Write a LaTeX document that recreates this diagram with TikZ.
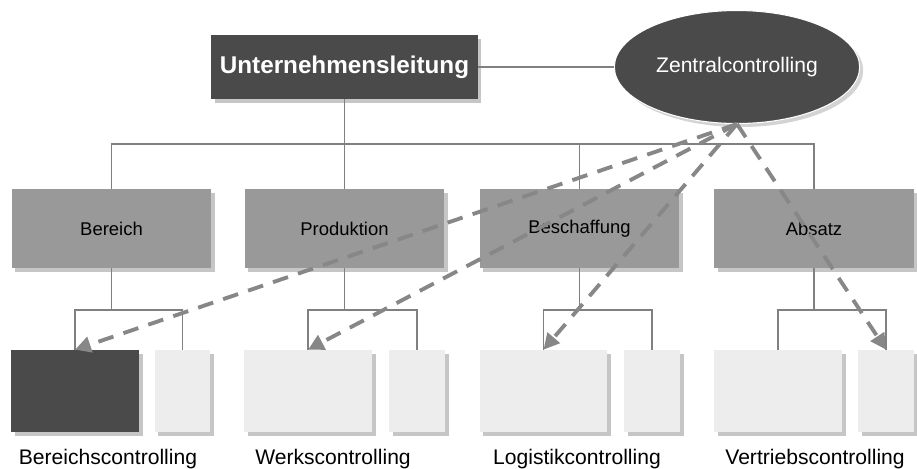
\documentclass[tikz,border=0pt]{standalone}
\usepackage{fontspec}
\setmainfont{Liberation Sans}
\usepackage{tikz}
\usetikzlibrary{arrows.meta, shapes.geometric, shadows}

\begin{document}
\begin{tikzpicture} [x=0.02cm, y=-0.02cm,
	line/.style={draw=black!50, line width=0.75pt},
	box/.style={rectangle, drop shadow={shadow xshift=2pt, shadow yshift=-2pt, opacity=0.45}},
	head/.style={box, fill=black!71, text=white, minimum width=5.34cm, minimum height=1.28cm, font=\fontsize{13.8}{16}\selectfont\bfseries},
	dept/.style={box, fill=black!40, minimum width=4cm, minimum height=1.58cm, font=\fontsize{10.5}{12}\selectfont},
	unit/.style={box, fill=black!7, minimum width=2.56cm, minimum height=1.64cm},
	sub/.style={box, fill=black!7, minimum width=1.12cm, minimum height=1.64cm},
	caption/.style={anchor=base, font=\fontsize{12}{14}\selectfont},
	ctrl/.style={draw=black!47, line width=2.2pt, dash pattern=on 9pt off 6pt, -{Triangle[length=9pt, width=9pt]}}]
\useasboundingbox (0, 0) rectangle (917, 468);

\path (344.5, 67) node[head] (ul) {Unternehmensleitung}
	  (737, 67) node[ellipse, fill=black!71, draw=white, line width=0.6pt, text=white, minimum width=4.84cm, minimum height=2.26cm, font=\fontsize{12}{14}\selectfont, drop shadow={shadow xshift=2pt, shadow yshift=-2pt, opacity=0.35}] (zc) {Zentralcontrolling}

	  (111.5, 228.5) node[dept] (m0) {Bereich}
	  (344.5, 228.5) node[dept] (m1) {Produktion}
	  (579.5, 228.5) node[dept] (m2) {Beschaffung}
	  (814, 228.5) node[dept] (m3) {Absatz}

	  (75, 391) node[unit, fill=black!71] (c0) {}
	  (182.5, 391) node[sub] (s0) {}
	  (308, 391) node[unit] (c1) {}
	  (417, 391) node[sub] (s1) {}
	  (543.5, 391) node[unit] (c2) {}
	  (652, 391) node[sub] (s2) {}
	  (778, 391) node[unit] (c3) {}
	  (886, 391) node[sub] (s3) {}

	  (108, 464) node[caption] (l0) {Bereichscontrolling}
	  (333, 464) node[caption] (l1) {Werkscontrolling}
	  (577, 464) node[caption] (l2) {Logistikcontrolling}
	  (815, 464) node[caption] (l3) {Vertriebscontrolling}

	  (0, 144) coordinate (bus)
	  (0, 310) coordinate (fork);

\draw[line] (ul) -- (zc);
\draw[line] (ul) -- (m1);
\draw[line] (m0) |- (bus -| m3) -- (m3);
\draw[line] (m2) -- (m2 |- bus);

\foreach \i in {0,...,3} {
	\draw[line] (m\i) -- (m\i |- fork);
	\draw[line] (c\i) |- (fork -| s\i) -- (s\i);
}

\foreach \t in {c0, c1, c2, s3}
	\draw[ctrl] (zc.south) -- (\t.north);
\end{tikzpicture}
\end{document}
